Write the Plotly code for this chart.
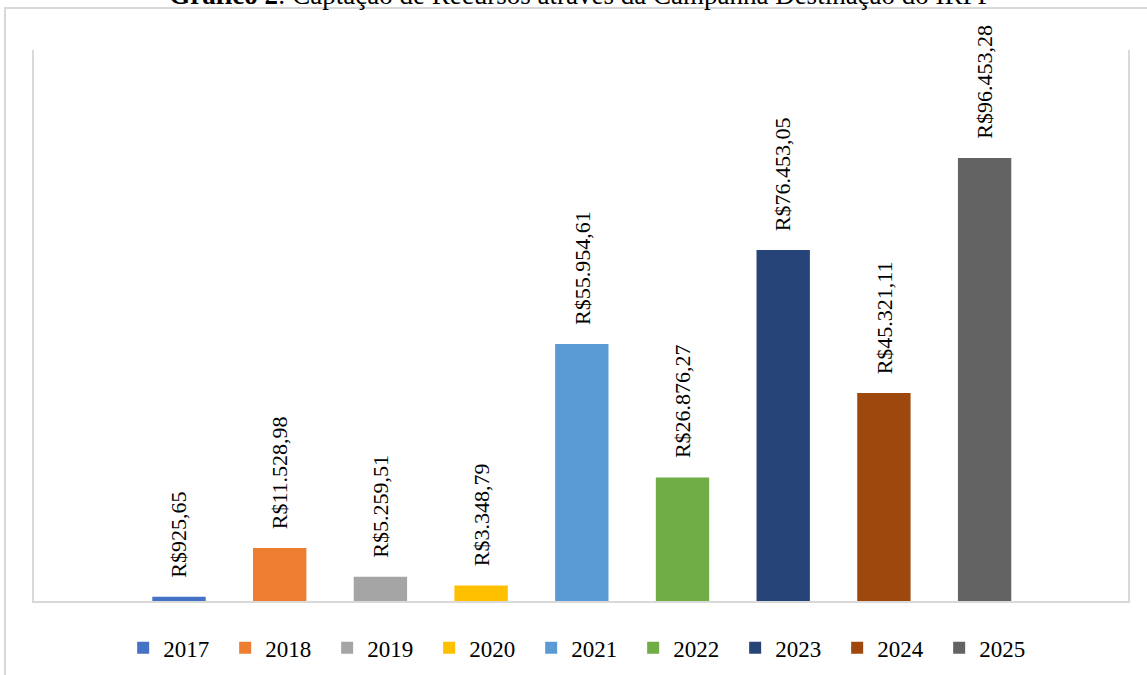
import plotly.graph_objects as go

years = ["2017", "2018", "2019", "2020", "2021", "2022", "2023", "2024", "2025"]
values = [925.65, 11528.98, 5259.51, 3348.79, 55954.61, 26876.27, 76453.05, 45321.11, 96453.28]
labels = ["R$925,65", "R$11.528,98", "R$5.259,51", "R$3.348,79", "R$55.954,61",
          "R$26.876,27", "R$76.453,05", "R$45.321,11", "R$96.453,28"]
colors = ["#4472C4", "#ED7D31", "#A5A5A5", "#FFC000", "#5B9BD5",
          "#70AD47", "#264478", "#9E480E", "#636363"]

FONT = "Liberation Serif, Times New Roman, serif"

fig = go.Figure()
for i, (yr, v, c) in enumerate(zip(years, values, colors)):
    fig.add_trace(go.Bar(x=[i], y=[v], name=yr, marker=dict(color=c, line=dict(width=0)),
                         width=0.53, hoverinfo="skip"))
    fig.add_annotation(x=i, y=v, text=labels[i], textangle=-90, showarrow=False,
                       xanchor="center", yanchor="bottom", yshift=17,
                       font=dict(family=FONT, size=22, color="#000000"))

fig.update_layout(
    width=1147, height=675,
    margin=dict(l=34, r=19, t=50, b=74, autoexpand=False),
    paper_bgcolor="white", plot_bgcolor="white",
    barmode="overlay",
    font=dict(family=FONT, color="#000000"),
    title=dict(text="<b>Gráfico 2</b>: Captação de Recursos através da Campanha Destinação do IRPF",
               x=0.5, xanchor="center", xref="paper",
               y=1 - 4 / 675, yanchor="bottom",
               font=dict(family=FONT, size=27, color="#000000")),
    xaxis=dict(range=[-1.44, 9.424], showticklabels=False, showgrid=False, zeroline=False,
               showline=True, linecolor="#d9d9d9", linewidth=2, ticks=""),
    yaxis=dict(range=[0, 120000], showticklabels=False, showgrid=False, zeroline=False,
               showline=True, mirror=True, linecolor="#d9d9d9", linewidth=2, ticks=""),
    showlegend=True,
    legend=dict(orientation="h", x=0.0815, xanchor="left", y=-0.046, yanchor="top",
                entrywidth=57, entrywidthmode="pixels",
                font=dict(family=FONT, size=23, color="#000000"),
                bgcolor="rgba(0,0,0,0)", itemclick=False),
    shapes=[dict(type="rect", xref="paper", yref="paper",
                 x0=-29 / 1094, x1=1.2, y0=-0.3, y1=(601 - 8) / 551,
                 line=dict(color="#d9d9d9", width=2), fillcolor="rgba(0,0,0,0)", layer="below")],
)

fig.write_html("out.html", config={"displayModeBar": False},
               post_script="document.body.style.margin='0';")
